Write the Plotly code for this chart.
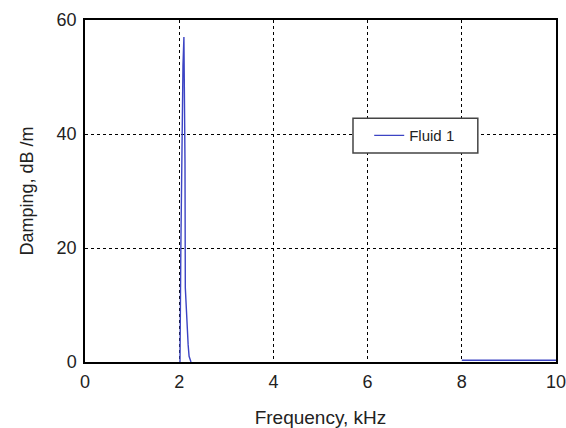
import plotly.graph_objects as go

# main resonance peak near 2.1 kHz
freq_khz = [2.0, 2.017, 2.035, 2.053, 2.08, 2.10, 2.115, 2.123, 2.13, 2.15, 2.166, 2.19, 2.21, 2.25,
            None, 8.0, 9.0, 10.0]
damping = [0.0, 0.0, 20.0, 38.0, 52.0, 57.0, 45.0, 35.0, 13.0, 9.0, 6.5, 3.0, 1.0, 0.0,
           None, 0.3, 0.3, 0.3]

x_ticks = [0, 2, 4, 6, 8, 10]
y_ticks = [0, 20, 40, 60]

fig = go.Figure()
fig.add_trace(go.Scatter(x=freq_khz, y=damping, mode="lines", name="Fluid 1",
                         connectgaps=False,
                         line=dict(color="#3c44c4", width=1.4)))

font = "Liberation Sans, Arial, sans-serif"
fig.update_layout(
    width=566, height=428,
    margin=dict(l=85, r=10, t=20, b=66),
    paper_bgcolor="white", plot_bgcolor="white",
    font=dict(family=font, color="#222222", size=18),
    showlegend=True,
    legend=dict(x=0.70, y=0.662, xanchor="center", yanchor="middle",
                bgcolor="rgba(0,0,0,0)", borderwidth=0,
                font=dict(size=15, family=font, color="#222222")),
    shapes=[dict(type="rect", xref="paper", yref="paper",
                 x0=0.569, x1=0.834, y0=0.611, y1=0.713,
                 line=dict(color="#444444", width=1.5), fillcolor="white", layer="above")],
    xaxis=dict(range=[0, 10], tickvals=x_ticks, ticks="", showline=True, mirror=True,
               linecolor="black", linewidth=1.5, showgrid=True, gridcolor="black",
               griddash="dot", gridwidth=1, zeroline=False, automargin=False,
               ticklabelstandoff=3, ticklabeloverflow="allow",
               title=dict(text="Frequency, kHz", font=dict(size=19), standoff=36),
               tickfont=dict(size=18)),
    yaxis=dict(range=[0, 60], tickvals=y_ticks, ticks="", showline=True, mirror=True,
               linecolor="black", linewidth=1.5, showgrid=True, gridcolor="black",
               griddash="dot", gridwidth=1, zeroline=False, automargin=False,
               ticklabelstandoff=3, ticklabeloverflow="allow",
               title=dict(text="Damping, dB /m", font=dict(size=18), standoff=18),
               tickfont=dict(size=18)),
)
fig.write_html("out.html", config={"displayModeBar": False},
               post_script="document.body.style.margin='0';document.body.style.overflow='hidden';")
